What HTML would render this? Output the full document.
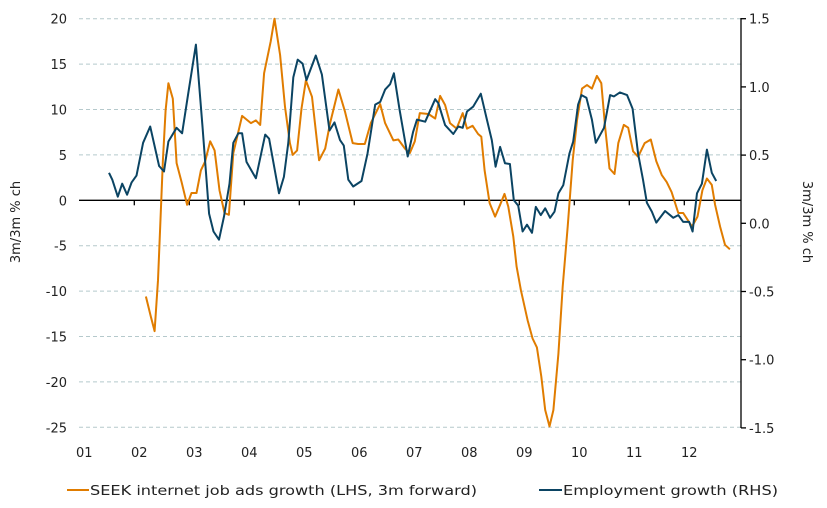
<!DOCTYPE html>
<html><head><meta charset="utf-8"><style>
html,body{margin:0;padding:0;background:#fff}
svg{display:block;font-family:"DejaVu Sans","Liberation Sans",sans-serif}
</style></head><body>
<svg id="chart" width="827" height="508" viewBox="0 0 827 508">
<g id="grid"></g>
<g id="axes"></g>
<g id="series"></g>
<text transform="translate(20,222) rotate(-90)" text-anchor="middle" font-size="13" fill="#222">3m/3m % ch</text>
<text transform="translate(803,222) rotate(90)" text-anchor="middle" font-size="13" fill="#222">3m/3m % ch</text>
<g>
<g>
<line x1="67" y1="490" x2="89" y2="490" stroke="#e07c00" stroke-width="2"/>
<text x="90" y="495" font-size="13" fill="#222" textLength="387" lengthAdjust="spacingAndGlyphs">SEEK internet job ads growth (LHS, 3m forward)</text>
</g>
<g>
<line x1="539" y1="490" x2="562" y2="490" stroke="#0b4463" stroke-width="2"/>
<text x="563" y="495" font-size="13" fill="#222" textLength="215" lengthAdjust="spacingAndGlyphs">Employment growth (RHS)</text>
</g>
</g>
</svg>
<script>
const seekDates=[2002.21,2002.30,2002.37,2002.43,2002.47,2002.52,2002.57,2002.62,2002.70,2002.77,2002.86,2002.96,2003.04,2003.13,2003.21,2003.29,2003.38,2003.46,2003.55,2003.64,2003.72,2003.80,2003.96,2004.12,2004.21,2004.29,2004.36,2004.48,2004.55,2004.65,2004.74,2004.83,2004.88,2004.96,2005.04,2005.12,2005.23,2005.36,2005.47,2005.56,2005.71,2005.83,2005.97,2006.07,2006.19,2006.30,2006.47,2006.56,2006.71,2006.80,2006.92,2007.01,2007.10,2007.19,2007.35,2007.47,2007.56,2007.65,2007.74,2007.86,2007.97,2008.05,2008.15,2008.25,2008.31,2008.37,2008.46,2008.56,2008.65,2008.73,2008.80,2008.89,2008.95,2009.03,2009.15,2009.24,2009.32,2009.40,2009.47,2009.55,2009.62,2009.71,2009.79,2009.88,2009.97,2010.05,2010.14,2010.23,2010.32,2010.41,2010.49,2010.56,2010.64,2010.73,2010.80,2010.90,2010.98,2011.07,2011.16,2011.28,2011.39,2011.49,2011.59,2011.68,2011.77,2011.89,2011.98,2012.14,2012.24,2012.33,2012.41,2012.50,2012.56,2012.65,2012.74,2012.83];
const seekValues=[-10.6,-12.8,-14.4,-8.8,-2.9,4.4,9.9,12.9,11.2,4.1,2.0,-0.5,0.8,0.8,3.3,4.3,6.5,5.5,1.1,-1.4,-1.6,5.2,9.3,8.5,8.8,8.3,14.0,17.5,20.0,16.0,10.3,6.3,5.0,5.5,10.1,13.2,11.4,4.4,5.7,8.5,12.2,9.8,6.3,6.2,6.2,8.5,10.6,8.5,6.6,6.7,5.7,5.2,6.5,9.6,9.5,9.0,11.5,10.5,8.5,7.9,9.6,7.9,8.2,7.3,7.0,3.3,-0.3,-1.8,-0.5,0.7,-0.7,-4.0,-7.3,-9.9,-13.2,-15.2,-16.2,-19.4,-23.1,-24.9,-23.1,-16.9,-9.5,-2.9,4.4,8.8,12.3,12.7,12.3,13.7,12.9,8.1,3.5,2.9,6.3,8.3,8.0,5.4,4.8,6.3,6.7,4.3,2.8,2.0,0.9,-1.4,-1.4,-2.9,-1.8,1.1,2.4,1.7,-0.5,-2.9,-4.9,-5.4];
const empDates=[2001.54,2001.60,2001.70,2001.78,2001.87,2001.95,2002.04,2002.16,2002.29,2002.45,2002.54,2002.62,2002.77,2002.87,2002.98,2003.12,2003.24,2003.36,2003.44,2003.54,2003.63,2003.73,2003.80,2003.89,2003.96,2004.04,2004.21,2004.38,2004.45,2004.63,2004.72,2004.80,2004.89,2004.97,2005.06,2005.13,2005.30,2005.41,2005.55,2005.64,2005.74,2005.81,2005.89,2005.98,2006.13,2006.24,2006.38,2006.47,2006.56,2006.65,2006.72,2006.82,2006.97,2007.07,2007.14,2007.29,2007.47,2007.53,2007.65,2007.80,2007.89,2007.97,2008.05,2008.16,2008.30,2008.41,2008.50,2008.57,2008.65,2008.74,2008.83,2008.90,2008.98,2009.06,2009.14,2009.23,2009.30,2009.39,2009.47,2009.56,2009.64,2009.71,2009.80,2009.91,2009.98,2010.07,2010.13,2010.22,2010.32,2010.39,2010.54,2010.65,2010.72,2010.83,2010.96,2011.06,2011.16,2011.25,2011.32,2011.41,2011.49,2011.65,2011.80,2011.89,2011.98,2012.09,2012.15,2012.23,2012.32,2012.41,2012.50,2012.58];
const empValues=[0.37,0.32,0.195,0.29,0.21,0.30,0.35,0.59,0.71,0.42,0.38,0.60,0.70,0.66,0.95,1.31,0.71,0.07,-0.06,-0.12,0.05,0.29,0.59,0.66,0.66,0.45,0.33,0.65,0.62,0.22,0.34,0.59,1.07,1.20,1.17,1.05,1.23,1.09,0.68,0.74,0.61,0.57,0.32,0.27,0.31,0.51,0.87,0.89,0.98,1.02,1.10,0.84,0.49,0.67,0.76,0.745,0.91,0.88,0.72,0.655,0.71,0.70,0.82,0.855,0.95,0.76,0.61,0.415,0.56,0.44,0.435,0.17,0.13,-0.06,-0.01,-0.07,0.12,0.06,0.11,0.04,0.085,0.22,0.28,0.51,0.60,0.87,0.94,0.92,0.76,0.59,0.70,0.94,0.93,0.96,0.94,0.84,0.51,0.32,0.15,0.085,0.005,0.09,0.04,0.06,0.01,0.01,-0.06,0.22,0.29,0.54,0.37,0.31];
const leftTicks=[20,15,10,5,0,-5,-10,-15,-20,-25];
const rightTicks=[1.5,1.0,0.5,0.0,-0.5,-1.0,-1.5];
const yearLabels=["01","02","03","04","05","06","07","08","09","10","11","12"];

const NS="http://www.w3.org/2000/svg";
const X0=79.3,YW=55,T0=2001;
const x=t=>X0+(t-T0)*YW;
const yL=v=>200.3-9.08*v;
const yR=v=>223.3-136.4*v;
function mk(tag,attrs,parent,txt){const e=document.createElementNS(NS,tag);for(const k in attrs)e.setAttribute(k,attrs[k]);if(txt!==undefined)e.textContent=txt;parent.appendChild(e);return e;}
const grid=document.getElementById('grid'),axes=document.getElementById('axes'),series=document.getElementById('series');
leftTicks.forEach(v=>{
  if(v!==0){const g=mk('line',{x1:79,x2:741,y1:yL(v),y2:yL(v),stroke:'#b5c9cc','stroke-width':1,'stroke-dasharray':'4,3'},grid);
  
  }
  const t=mk('text',{x:67,y:yL(v)+5,'text-anchor':'end','font-size':13,fill:'#222'},axes,String(v));
  
  
});
const xa=mk('line',{x1:79,x2:741,y1:yL(0),y2:yL(0),stroke:'#000','stroke-width':1.3},axes);


yearLabels.forEach((l,i)=>{
  const tx=x(T0+i);
  if(i>0){const tk=mk('line',{x1:tx,x2:tx,y1:yL(0),y2:yL(0)+5,stroke:'#000','stroke-width':1.3},axes);
  
  }
  const t=mk('text',{x:tx+5,y:457,'text-anchor':'middle','font-size':13,fill:'#222'},axes,l);
  
  
});
const ra=mk('line',{x1:741,x2:741,y1:18,y2:428,stroke:'#000','stroke-width':1.3},axes);


rightTicks.forEach(v=>{
  const tk=mk('line',{x1:741,x2:746,y1:yR(v),y2:yR(v),stroke:'#000','stroke-width':1.3},axes);
  
  
  const t=mk('text',{x:749,y:yR(v)+5,'font-size':13,fill:'#222'},axes,v.toFixed(1));
  
  
});
const sp=mk('polyline',{points:seekDates.map((d,i)=>x(d).toFixed(1)+','+yL(seekValues[i]).toFixed(1)).join(' '),fill:'none',stroke:'#e07c00','stroke-width':2,'stroke-linejoin':'round'},series);


const ep=mk('polyline',{points:empDates.map((d,i)=>x(d).toFixed(1)+','+yR(empValues[i]).toFixed(1)).join(' '),fill:'none',stroke:'#0b4463','stroke-width':2,'stroke-linejoin':'round'},series);


</script>
</body></html>
